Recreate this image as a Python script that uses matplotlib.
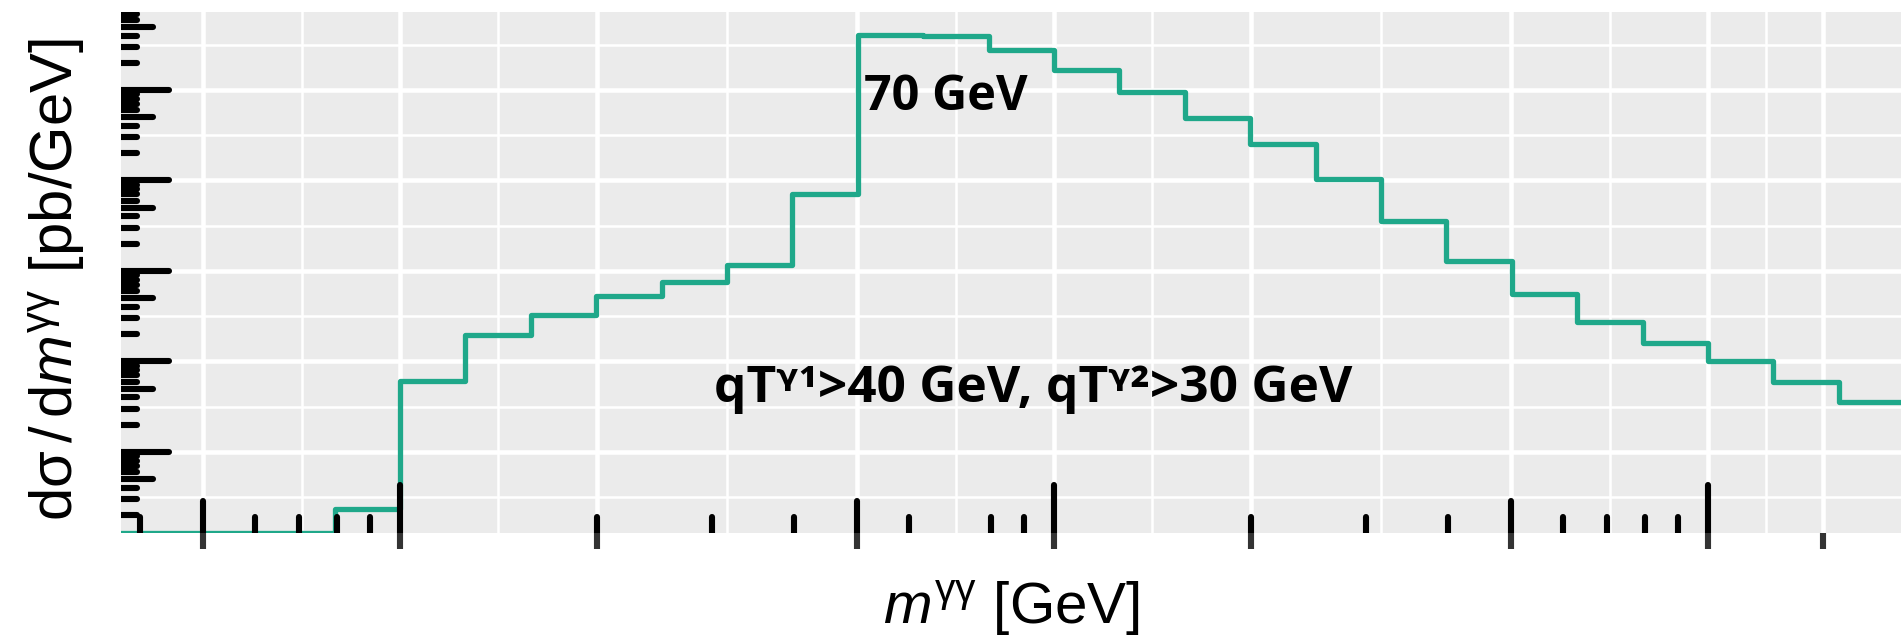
import numpy as np
import matplotlib
matplotlib.use('Agg')
import matplotlib.pyplot as plt
from matplotlib.collections import LineCollection
from matplotlib.ticker import FixedLocator, NullFormatter
from matplotlib.transforms import blended_transform_factory

# log10 of the bin edges in m_gg [GeV] (0.1-decade bins)
edge_exp = [0.5, 0.6, 0.7, 0.8, 0.9, 1.0, 1.1, 1.2, 1.3, 1.4, 1.5, 1.6, 1.7, 1.8,
            1.9, 2.0, 2.1, 2.2, 2.3, 2.4, 2.5, 2.6, 2.7, 2.8, 2.9, 3.0, 3.1, 3.2, 3.3]
# dsigma/dm per bin [pb/GeV]
xsec = [0, 0, 0, 0, 2.33e-4, 6.1e-3, 0.0198, 0.0325, 0.053, 0.075, 0.115, 0.71,
        40.3, 39.7, 27.9, 16.5, 9.5, 4.95, 2.5, 1.03, 0.36, 0.13, 0.055, 0.027,
        0.016, 0.010, 0.006, 0.0036]

x_breaks = [5, 10, 20, 50, 100, 200, 500, 1000, 1500]
y_breaks = [1e-3, 1e-2, 1e-1, 1, 10]

X_LIM = (3.745, 1973)
Y_LIM = (1.27e-4, 72.8)

TEAL = '#1fa88a'
FIG_W, FIG_H, DPI = 19.01, 6.38, 100

plt.rcParams['mathtext.fontset'] = 'custom'
plt.rcParams['mathtext.rm'] = 'Liberation Sans'
plt.rcParams['mathtext.it'] = 'Liberation Sans:italic'
plt.rcParams['mathtext.bf'] = 'Open Sans:bold'


def add_logticks(ax, side, decades, skip=()):
    """ggplot-style annotation_logticks drawn inside the panel."""
    pos = ax.get_position()
    if side == 'l':
        span_px = pos.width * FIG_W * DPI
        lim = ax.get_ylim()
        trans = blended_transform_factory(ax.transAxes, ax.transData)
    else:
        span_px = pos.height * FIG_H * DPI
        lim = ax.get_xlim()
        trans = blended_transform_factory(ax.transData, ax.transAxes)
    segs = []
    for d in decades:
        for k in range(1, 10):
            v = k * 10.0 ** d
            if v < lim[0] or v > lim[1] or round(v, 8) in skip:
                continue
            length = 48 if k == 1 else (32 if k == 5 else 16)
            frac = length / span_px
            if side == 'l':
                segs.append([(0, v), (frac, v)])
            else:
                segs.append([(v, 0), (v, frac)])
    lc = LineCollection(segs, colors='black', linewidths=4.4, capstyle='round',
                        transform=trans, zorder=4)
    ax.add_collection(lc)


fig = plt.figure(figsize=(FIG_W, FIG_H), dpi=DPI)
ax = fig.add_axes([121 / 1901, 105 / 638, 1780 / 1901, 521 / 638])
ax.set_facecolor('#EBEBEB')
for sp in ax.spines.values():
    sp.set_visible(False)

ax.set_xscale('log')
ax.set_yscale('log')
ax.set_xlim(*X_LIM)
ax.set_ylim(*Y_LIM)

edges = 10.0 ** np.array(edge_exp)
vals = np.array(xsec, dtype=float)
# empty bins sit on the panel floor, like -Inf in ggplot
plot_vals = np.where(vals > 0, vals, Y_LIM[0])
ax.stairs(plot_vals, edges, baseline=None, color=TEAL, linewidth=3.8,
          joinstyle='round', zorder=3)

xb = np.array(x_breaks, dtype=float)
yb = np.array(y_breaks, dtype=float)
ax.xaxis.set_major_locator(FixedLocator(xb))
ax.xaxis.set_minor_locator(FixedLocator(np.sqrt(xb[:-1] * xb[1:])))
ax.yaxis.set_major_locator(FixedLocator(yb))
ax.yaxis.set_minor_locator(FixedLocator(np.sqrt(yb[:-1] * yb[1:]).tolist() + [10 ** -3.5, 10 ** 1.5]))
for a in (ax.xaxis, ax.yaxis):
    a.set_major_formatter(NullFormatter())
    a.set_minor_formatter(NullFormatter())

ax.set_axisbelow(True)
ax.grid(which='major', color='white', linewidth=3.3)
ax.grid(which='minor', color='white', linewidth=1.8)
ax.tick_params(axis='x', which='major', direction='out', length=11.5, width=4.4,
               color='#333333', labelbottom=False)
ax.tick_params(axis='x', which='minor', length=0)
ax.tick_params(axis='y', which='both', length=0, labelleft=False)

add_logticks(ax, 'l', range(-4, 2))
add_logticks(ax, 'b', range(0, 4), skip=(70.0,))

ax.text(51.2, 6.0, '70 GeV', fontfamily='Open Sans', fontweight='bold',
        fontsize=35, ha='left', va='baseline', zorder=5)
ax.text(93.0, 3.52e-3, 'qT\u1d5e\u00b9>40 GeV, qT\u1d5e\u00b2>30 GeV',
        fontfamily=['Open Sans', 'DejaVu Sans'], fontweight='bold', fontsize=37,
        ha='center', va='baseline', zorder=5)

fig.text(58 / 1901, 1 - 280 / 638,
         r'd$\mathrm{\sigma}\,/\,$d$m^{\mathrm{\gamma\gamma}}$ [pb/GeV]',
         rotation=90, ha='center', va='center', fontsize=43,
         fontfamily='Liberation Sans')
fig.text(1011 / 1901, 15 / 638, r'$m^{\mathrm{\gamma\gamma}}$ [GeV]',
         ha='center', va='baseline', fontsize=42, fontfamily='Liberation Sans')

fig.savefig('out.png', dpi=DPI)
plt.close(fig)
